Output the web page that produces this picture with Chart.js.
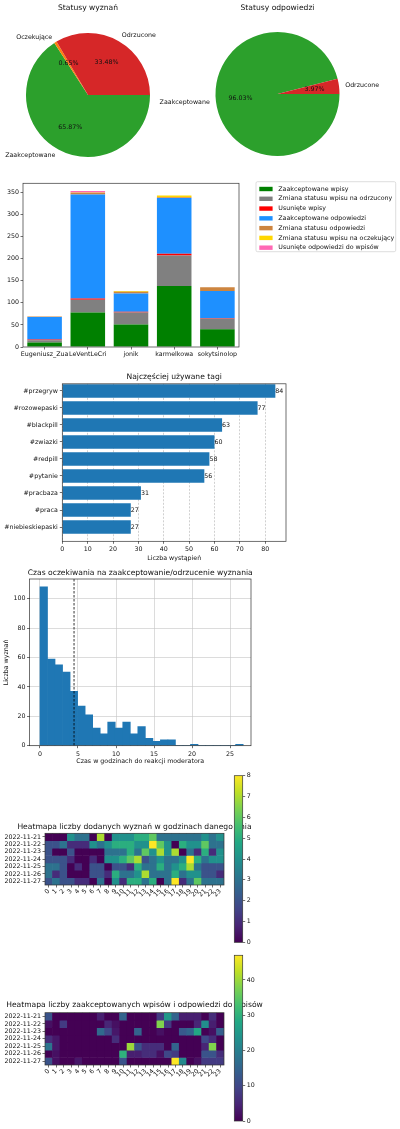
<!DOCTYPE html>
<html>
<head>
<meta charset="utf-8">
<script src="https://cdn.jsdelivr.net/npm/chart.js@4.4.1/dist/chart.umd.min.js"></script>
<style>
    html, body { margin: 0; padding: 0; background: #fff; }
    #page { position: relative; width: 400px; height: 1129px; overflow: hidden; }
    #page canvas { position: absolute; }
</style>
</head>
<body>
<div id="page"></div>
<script>
// --- dane ---
const WPIS_LABELS = ['Zaakceptowane', 'Oczekujące', 'Odrzucone'];
const WPIS_PCT = [65.87, 0.65, 33.48];
const WPIS_COLORS = ['#2ca02c', '#ff7f0e', '#d62728'];

const ODP_LABELS = ['Zaakceptowane', 'Odrzucone'];
const ODP_PCT = [96.03, 3.97];
const ODP_COLORS = ['#2ca02c', '#d62728'];

const USERS = ['Eugeniusz_Zua', 'LeVentLeCri', 'jonik', 'karmelkowa', 'sokytsinolop'];
const ZAAKC_WPISY = [10, 78, 51, 138, 40];
const ODRZUCONE_WPISY = [5, 29, 27, 69, 24];
const USUNIETE_WPISY = [2, 3, 2, 4, 1];
const ZAAKC_ODP = [51, 235, 41, 126, 62];
const ZMIANA_ODP = [1, 4, 4, 2, 8];
const OCZEKUJACE_WPISY = [0, 1, 2, 4, 0];
const USUNIETE_ODP = [0, 3, 0, 0, 0];
const ACTIVITY_TICKS = [0, 50, 100, 150, 200, 250, 300, 350];

const TAGS = ['#przegryw', '#rozowepaski', '#blackpill', '#zwiazki', '#redpill', '#pytanie', '#pracbaza', '#praca', '#niebieskiepaski'];
const TAG_COUNTS = [84, 77, 63, 60, 58, 56, 31, 27, 27];
const TAG_TICKS = [0, 10, 20, 30, 40, 50, 60, 70, 80];

const BIN_WIDTH = 0.99;
const WAIT_COUNTS = [108, 59, 55, 50, 37, 27, 21, 12, 8, 16, 12, 16, 8, 13, 5, 3, 4, 4, 0, 0, 1, 0, 0, 0, 0, 0, 1];
const WAIT_MARK = 4.48;
const WAIT_XTICKS = [0, 5, 10, 15, 20, 25];
const WAIT_YTICKS = [0, 20, 40, 60, 80, 100];

const DAYS = ['2022-11-21', '2022-11-22', '2022-11-23', '2022-11-24', '2022-11-25', '2022-11-26', '2022-11-27'];
const HOURS = ['0', '1', '2', '3', '4', '5', '6', '7', '8', '9', '10', '11', '12', '13', '14', '15', '16', '17', '18', '19', '20', '21', '22', '23'];
const POSTS_BY_HOUR = [
    [0, 0, 0, 4, 3, 3, 0, 7, 0, 4, 4, 4, 5, 5, 6, 3, 3, 3, 3, 3, 3, 4, 3, 4],
    [2, 2, 3, 1, 1, 1, 4, 3, 4, 5, 5, 5, 4, 4, 8, 6, 4, 0, 5, 4, 4, 6, 3, 3],
    [2, 0, 0, 2, 0, 0, 0, 0, 3, 3, 3, 5, 3, 6, 4, 7, 4, 7, 0, 3, 1, 5, 1, 4],
    [2, 2, 2, 1, 0, 0, 1, 0, 4, 4, 5, 6, 7, 2, 3, 4, 3, 3, 4, 8, 5, 3, 4, 4],
    [3, 3, 2, 0, 1, 0, 2, 2, 0, 2, 2, 1, 5, 3, 3, 5, 3, 4, 5, 7, 3, 2, 2, 2],
    [3, 1, 2, 0, 0, 0, 2, 2, 1, 5, 3, 3, 4, 7, 3, 3, 3, 5, 3, 4, 4, 2, 2, 1],
    [2, 3, 2, 2, 1, 1, 0, 3, 0, 4, 1, 5, 5, 3, 5, 0, 3, 8, 1, 3, 6, 3, 3, 3]
];
const ACCEPTED_BY_HOUR = [
    [12, 0, 0, 0, 0, 0, 0, 4, 0, 0, 15, 0, 0, 0, 0, 8, 25, 15, 4, 4, 4, 0, 6, 0],
    [2, 0, 8, 0, 0, 0, 0, 0, 5, 2, 0, 0, 0, 0, 0, 38, 8, 0, 0, 0, 5, 23, 4, 0],
    [0, 0, 0, 0, 0, 0, 0, 16, 10, 3, 0, 0, 15, 0, 0, 2, 0, 0, 13, 15, 28, 0, 2, 14],
    [6, 3, 0, 0, 0, 0, 0, 0, 0, 6, 0, 0, 0, 0, 0, 0, 0, 0, 0, 0, 0, 10, 6, 0],
    [18, 3, 0, 0, 0, 0, 0, 0, 0, 0, 0, 40, 12, 6, 6, 6, 0, 15, 0, 0, 0, 5, 38, 0],
    [0, 2, 0, 0, 0, 0, 0, 0, 0, 0, 30, 4, 4, 6, 6, 2, 10, 8, 0, 0, 0, 12, 12, 6],
    [12, 2, 0, 0, 3, 0, 0, 0, 0, 0, 12, 0, 0, 0, 0, 0, 0, 47, 22, 0, 2, 8, 8, 8]
];
const POSTS_CBAR_TICKS = [0, 1, 2, 3, 4, 5, 6, 7, 8];
const ACCEPTED_CBAR_TICKS = [0, 10, 20, 30, 40];

// --- pomocnicze ---
const VIRIDIS = ['#440154', '#482475', '#414487', '#355f8d', '#2a788e', '#21918c', '#22a884', '#44bf70', '#7ad151', '#bddf26', '#fde725'];
const FONT = 6.3;
const TITLE_FONT = 7.6;

function hexRgb(h) {
    return [1, 3, 5].map(i => parseInt(h.slice(i, i + 2), 16));
}

function viridis(t) {
    t = Math.max(0, Math.min(1, t));
    const p = t * (VIRIDIS.length - 1);
    const i = Math.min(Math.floor(p), VIRIDIS.length - 2);
    const f = p - i;
    const a = hexRgb(VIRIDIS[i]), b = hexRgb(VIRIDIS[i + 1]);
    const c = a.map((v, k) => Math.round(v + (b[k] - v) * f));
    return `rgb(${c[0]},${c[1]},${c[2]})`;
}

function place(x, y, w, h) {
    const c = document.createElement('canvas');
    c.width = w;
    c.height = h;
    c.style.left = x + 'px';
    c.style.top = y + 'px';
    document.getElementById('page').appendChild(c);
    return c;
}

function text(ctx, s, x, y, size, align = 'center', rot = 0) {
    ctx.save();
    ctx.translate(x, y);
    ctx.rotate(rot);
    ctx.font = size + 'px "DejaVu Sans"';
    ctx.fillStyle = '#111';
    ctx.textAlign = align;
    ctx.textBaseline = 'middle';
    ctx.fillText(s, 0, 0);
    ctx.restore();
}

const fixW = w => s => { s.width = w; };
const fixH = h => s => { s.height = h; };
const setTicks = list => s => { s.ticks = list.map(v => ({ value: v })); };

const TICK_GRID = { drawOnChartArea: false, offset: false, tickLength: 2.5, tickColor: '#333', tickWidth: 0.7 };
const NO_BORDER = { display: false };

// ramka osi, tytuł i podpisy osi
const decor = {
    id: 'decor',
    afterDraw(chart, args, o) {
        const { ctx, chartArea: a } = chart;
        const cx = (a.left + a.right) / 2;
        if (o.frame) {
            ctx.save();
            ctx.strokeStyle = '#333';
            ctx.lineWidth = 0.7;
            ctx.strokeRect(a.left, a.top, a.right - a.left, a.bottom - a.top);
            ctx.restore();
        }
        if (o.title) text(ctx, o.title, cx, o.titleY, TITLE_FONT);
        if (o.xLabel) text(ctx, o.xLabel, cx, o.xLabelY, FONT);
        if (o.yLabel) text(ctx, o.yLabel, o.yLabelX, (a.top + a.bottom) / 2, FONT, 'center', -Math.PI / 2);
    }
};

Chart.register(decor);
Chart.defaults.font.family = '"DejaVu Sans", sans-serif';
Chart.defaults.font.size = FONT;
Chart.defaults.color = '#111';
Chart.defaults.animation = false;
Chart.defaults.responsive = false;
Chart.defaults.events = [];
Chart.defaults.plugins.legend.display = false;
Chart.defaults.plugins.tooltip.enabled = false;

// --- wykresy kołowe ---
const pieLabels = {
    id: 'pieLabels',
    afterDraw(chart) {
        const ctx = chart.ctx;
        const values = chart.data.datasets[0].data;
        chart.getDatasetMeta(0).data.forEach((arc, i) => {
            const { x, y, startAngle, endAngle, outerRadius } = arc.getProps(['x', 'y', 'startAngle', 'endAngle', 'outerRadius'], true);
            const mid = (startAngle + endAngle) / 2;
            const c = Math.cos(mid), s = Math.sin(mid);
            text(ctx, chart.data.labels[i], x + c * outerRadius * 1.1, y + s * outerRadius * 1.1, FONT, c > 0 ? 'left' : 'right');
            text(ctx, values[i].toFixed(2) + '%', x + c * outerRadius * 0.6, y + s * outerRadius * 0.6, FONT);
        });
    }
};

function pie(canvas, labels, values, colors, title, pad) {
    return new Chart(canvas, {
        type: 'pie',
        data: { labels: labels, datasets: [{ data: values, backgroundColor: colors, borderWidth: 0 }] },
        options: {
            rotation: 90,
            layout: { padding: pad },
            plugins: { decor: { title: title, titleY: 7.7 } }
        },
        plugins: [pieLabels]
    });
}

pie(place(0, 0, 200, 170), WPIS_LABELS, WPIS_PCT, WPIS_COLORS, 'Statusy wyznań',
    { left: 26, top: 33, right: 50, bottom: 13 });
pie(place(150, 0, 250, 170), ODP_LABELS, ODP_PCT, ODP_COLORS, 'Statusy odpowiedzi',
    { left: 65.5, top: 32, right: 60.5, bottom: 14 });

// --- aktywność moderatorów ---
const boxLegend = {
    id: 'boxLegend',
    afterDraw(chart, args, o) {
        const ctx = chart.ctx;
        ctx.save();
        ctx.fillStyle = 'rgba(255,255,255,0.8)';
        ctx.strokeStyle = '#d0d0d0';
        ctx.lineWidth = 0.7;
        ctx.beginPath();
        ctx.roundRect(o.x, o.y, o.w, o.h, 1.5);
        ctx.fill();
        ctx.stroke();
        chart.data.datasets.forEach((ds, i) => {
            const cy = o.y + 7.3 + i * o.row;
            ctx.fillStyle = ds.backgroundColor;
            ctx.fillRect(o.x + 3.3, cy - 2.2, 13.3, 4.4);
            text(ctx, ds.label, o.x + 22.3, cy, FONT, 'left');
        });
        ctx.restore();
    }
};

new Chart(place(0, 178, 400, 184), {
    type: 'bar',
    data: {
        labels: USERS,
        datasets: [
            { label: 'Zaakceptowane wpisy', data: ZAAKC_WPISY, backgroundColor: '#008000' },
            { label: 'Zmiana statusu wpisu na odrzucony', data: ODRZUCONE_WPISY, backgroundColor: '#808080' },
            { label: 'Usunięte wpisy', data: USUNIETE_WPISY, backgroundColor: '#ff0000' },
            { label: 'Zaakceptowane odpowiedzi', data: ZAAKC_ODP, backgroundColor: '#1e90ff' },
            { label: 'Zmiana statusu odpowiedzi', data: ZMIANA_ODP, backgroundColor: '#cd853f' },
            { label: 'Zmiana statusu wpisu na oczekujący', data: OCZEKUJACE_WPISY, backgroundColor: '#ffd700' },
            { label: 'Usunięte odpowiedzi do wpisów', data: USUNIETE_ODP, backgroundColor: '#ff69b4' }
        ]
    },
    options: {
        layout: { padding: { top: 4, right: 161, left: 0, bottom: 0 } },
        datasets: { bar: { barPercentage: 0.8, categoryPercentage: 1 } },
        scales: {
            x: {
                stacked: true, grid: TICK_GRID, border: NO_BORDER,
                ticks: { autoSkip: false, maxRotation: 0, padding: 1 },
                afterFit: fixH(15)
            },
            y: {
                stacked: true, min: 0, max: 370.6, grid: TICK_GRID, border: NO_BORDER,
                ticks: { padding: 1.5 },
                afterBuildTicks: setTicks(ACTIVITY_TICKS),
                afterFit: fixW(23)
            }
        },
        plugins: {
            decor: { frame: true },
            boxLegend: { x: 256, y: 3.7, w: 139.7, h: 70, row: 9.78 }
        }
    },
    plugins: [boxLegend]
});

// --- najczęstsze tagi ---
const barValues = {
    id: 'barValues',
    afterDatasetsDraw(chart) {
        const ds = chart.data.datasets[0];
        chart.getDatasetMeta(0).data.forEach((bar, i) => {
            text(chart.ctx, String(ds.data[i].x), bar.x, bar.y, FONT, 'left');
        });
    }
};

new Chart(place(0, 360, 300, 210), {
    type: 'bar',
    data: {
        labels: TAGS,
        datasets: [{
            data: TAG_COUNTS.map((v, i) => ({ x: v, y: i })),
            backgroundColor: '#1f77b4',
            barPercentage: 0.8,
            categoryPercentage: 1
        }]
    },
    options: {
        indexAxis: 'y',
        layout: { padding: { top: 23.8, right: 14, left: 0, bottom: 0 } },
        scales: {
            y: {
                type: 'linear', reverse: true, min: -0.42, max: 8.84, offset: false,
                grid: TICK_GRID, border: NO_BORDER,
                ticks: { padding: 2, autoSkip: false, callback: (v, i) => TAGS[i] },
                afterBuildTicks: s => { s.ticks = TAGS.map((t, i) => ({ value: i })); },
                afterFit: fixW(62.3)
            },
            x: {
                min: 0, max: 88.2,
                grid: { color: '#b0b0b0', lineWidth: 0.6, tickLength: 2.5, tickColor: '#333', tickWidth: 0.7 },
                border: { display: false, dash: [2, 1.5] },
                ticks: { padding: 2 },
                afterBuildTicks: setTicks(TAG_TICKS),
                afterFit: fixH(28.7)
            }
        },
        plugins: {
            decor: { frame: true, title: 'Najczęściej używane tagi', titleY: 17, xLabel: 'Liczba wystąpień', xLabelY: 198 }
        }
    },
    plugins: [barValues]
});

// --- czas oczekiwania ---
const vline = {
    id: 'vline',
    afterDatasetsDraw(chart, args, o) {
        const { ctx, chartArea: a } = chart;
        const x = chart.scales.x.getPixelForValue(o.value);
        ctx.save();
        ctx.strokeStyle = '#000';
        ctx.lineWidth = 0.8;
        ctx.setLineDash([2.5, 1.5]);
        ctx.beginPath();
        ctx.moveTo(x, a.top);
        ctx.lineTo(x, a.bottom);
        ctx.stroke();
        ctx.restore();
    }
};

const GRID_SOLID = { color: '#c4c4c4', lineWidth: 0.6, offset: false, tickLength: 2.5, tickColor: '#333', tickWidth: 0.7 };

new Chart(place(0, 565, 270, 205), {
    type: 'bar',
    data: {
        datasets: [{
            data: WAIT_COUNTS.map((c, i) => ({ x: (i + 0.5) * BIN_WIDTH, y: c })),
            backgroundColor: '#1f77b4',
            barPercentage: 1,
            categoryPercentage: 1
        }]
    },
    options: {
        layout: { padding: { top: 14, right: 19, left: 0, bottom: 0 } },
        scales: {
            x: {
                type: 'linear', min: -1.38, max: 27.76, offset: false,
                grid: GRID_SOLID, border: NO_BORDER,
                ticks: { padding: 2 },
                afterBuildTicks: setTicks(WAIT_XTICKS),
                afterFit: fixH(24.3)
            },
            y: {
                min: 0, max: 113.4,
                grid: GRID_SOLID, border: NO_BORDER,
                ticks: { padding: 1.5 },
                afterBuildTicks: setTicks(WAIT_YTICKS),
                afterFit: fixW(29.5)
            }
        },
        plugins: {
            decor: {
                frame: true,
                title: 'Czas oczekiwania na zaakceptowanie/odrzucenie wyznania', titleY: 8,
                xLabel: 'Czas w godzinach do reakcji moderatora', xLabelY: 196.7,
                yLabel: 'Liczba wyznań', yLabelX: 6.7
            },
            vline: { value: WAIT_MARK }
        }
    },
    plugins: [vline]
});

// --- heatmapy ---
function heatmap(canvas, grid, title, titleY, top) {
    const vmax = Math.max(...grid.flat());
    return new Chart(canvas, {
        type: 'bar',
        data: {
            labels: HOURS,
            datasets: grid.map((row, r) => ({
                label: DAYS[r],
                data: row.map(() => 1),
                backgroundColor: row.map(v => viridis(v / vmax)),
                barPercentage: 1,
                categoryPercentage: 1
            }))
        },
        options: {
            layout: { padding: { top: top, right: 46, left: 0, bottom: 0 } },
            scales: {
                x: {
                    stacked: true, grid: TICK_GRID, border: NO_BORDER,
                    ticks: { autoSkip: false, minRotation: 45, maxRotation: 45, padding: 0 },
                    afterFit: fixH(25)
                },
                y: {
                    stacked: true, min: 0, max: DAYS.length, reverse: true,
                    grid: TICK_GRID, border: NO_BORDER,
                    ticks: { padding: 1.5, autoSkip: false, callback: (v, i) => DAYS[i] },
                    afterBuildTicks: s => { s.ticks = DAYS.map((d, i) => ({ value: i + 0.5 })); },
                    afterFit: fixW(45)
                }
            },
            plugins: { decor: { frame: true, title: title, titleY: titleY } }
        }
    });
}

const gradientFill = {
    id: 'gradientFill',
    beforeDatasetsDraw(chart) {
        const { ctx, chartArea: a } = chart;
        const g = ctx.createLinearGradient(0, a.bottom, 0, a.top);
        VIRIDIS.forEach((c, i) => g.addColorStop(i / (VIRIDIS.length - 1), c));
        ctx.save();
        ctx.fillStyle = g;
        ctx.fillRect(a.left, a.top, a.right - a.left, a.bottom - a.top);
        ctx.restore();
    }
};

function colorbar(canvas, vmax, ticks, pad) {
    return new Chart(canvas, {
        type: 'bar',
        data: { labels: [''], datasets: [] },
        options: {
            layout: { padding: pad },
            scales: {
                x: { display: false },
                y: {
                    position: 'right', min: 0, max: vmax,
                    grid: TICK_GRID, border: NO_BORDER,
                    ticks: { padding: 1.5, autoSkip: false },
                    afterBuildTicks: setTicks(ticks),
                    afterFit: fixW(22.3)
                }
            },
            plugins: { decor: { frame: true } }
        },
        plugins: [gradientFill]
    });
}

heatmap(place(0, 770, 270, 140), POSTS_BY_HOUR,
    'Heatmapa liczby dodanych wyznań w godzinach danego dnia', 56.7, 63.3);
colorbar(place(225, 770, 40, 180), Math.max(...POSTS_BY_HOUR.flat()), POSTS_CBAR_TICKS,
    { left: 9.3, top: 5.7, right: 0, bottom: 7.7 });

heatmap(place(0, 950, 270, 140), ACCEPTED_BY_HOUR,
    'Heatmapa liczby zaakceptowanych wpisów i odpowiedzi do wpisów', 55, 62.7);
colorbar(place(225, 950, 40, 179), Math.max(...ACCEPTED_BY_HOUR.flat()), ACCEPTED_CBAR_TICKS,
    { left: 9.3, top: 5, right: 0, bottom: 8 });
</script>
</body>
</html>
